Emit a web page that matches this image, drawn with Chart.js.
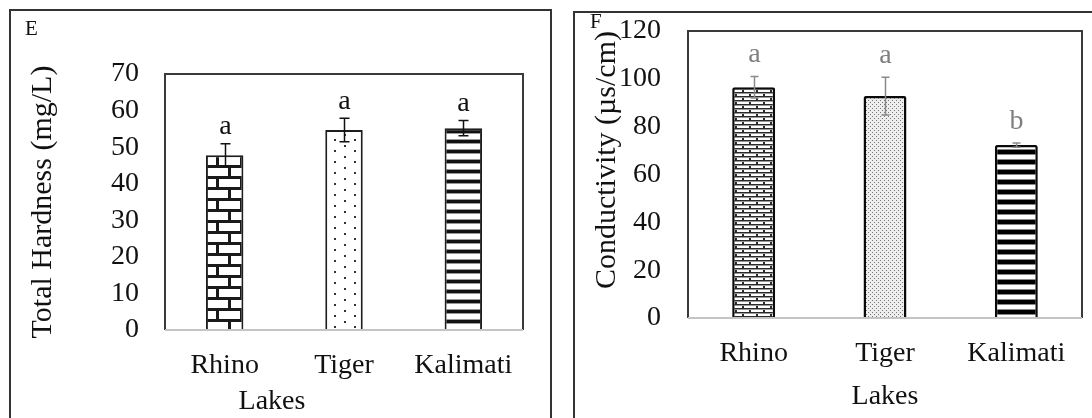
<!DOCTYPE html>
<html><head><meta charset="utf-8">
<script src="https://cdn.jsdelivr.net/npm/chart.js@4.4.1/dist/chart.umd.min.js"></script>
<style>
html,body{margin:0;padding:0;background:#fff;width:1092px;height:418px;overflow:hidden;position:relative;}
.frame{position:absolute;border:2px solid #333;border-bottom:none;box-sizing:border-box;}
canvas{position:absolute;top:0;}
</style></head><body>
<div class="frame" style="left:9px;top:9px;width:543px;height:420px;"></div>
<div class="frame" style="left:573px;top:11px;width:540px;height:420px;"></div>
<canvas id="c1" width="550" height="418" style="left:0;width:550px;height:418px"></canvas>
<canvas id="c2" width="532" height="418" style="left:560px;width:532px;height:418px"></canvas>
<script>
// ---- data ----
const categories = ['Rhino', 'Tiger', 'Kalimati'];
const hardnessValues = [47.8, 54.7, 55.2];
const hardnessErrors = [3.1, 3.2, 2.1];
const hardnessLetters = ['a', 'a', 'a'];
const hardnessTicks = [0, 10, 20, 30, 40, 50, 60, 70];
const conductivityValues = [96.5, 92.8, 72.3];
const conductivityErrors = [4.5, 7.9, 0.9];
const conductivityLetters = ['a', 'a', 'b'];
const conductivityTicks = [0, 20, 40, 60, 80, 100, 120];

const FONT = "'Liberation Serif', 'Times New Roman', serif";

function pat(canvas, w, h, draw) {
  const t = document.createElement('canvas'); t.width = w; t.height = h;
  const g = t.getContext('2d'); draw(g);
  return canvas.getContext('2d').createPattern(t, 'repeat');
}

const c1 = document.getElementById('c1');
const c2 = document.getElementById('c2');

const brickL = pat(c1, 24, 22, g => {
  g.fillStyle = '#fff'; g.fillRect(0, 0, 24, 22);
  g.fillStyle = '#1a1a1a';
  g.fillRect(0, 0, 24, 3); g.fillRect(0, 11, 24, 3);
  g.fillRect(0, 0, 3, 11); g.fillRect(12, 11, 3, 11);
});
const dotsL = pat(c1, 20, 11, g => {
  g.fillStyle = '#fff'; g.fillRect(0, 0, 20, 11);
  g.fillStyle = '#333'; g.fillRect(4, 2, 2, 2); g.fillRect(14, 7, 2, 2);
});
const stripesL = pat(c1, 10, 10, g => {
  g.fillStyle = '#fff'; g.fillRect(0, 0, 10, 10);
  g.fillStyle = '#111'; g.fillRect(0, 0, 10, 3);
  g.fillStyle = '#999'; g.fillRect(0, 3, 10, 1); g.fillRect(0, 9, 10, 1);
});
const brickR = pat(c2, 14, 8, g => {
  g.fillStyle = '#fff'; g.fillRect(0, 0, 14, 8);
  g.fillStyle = '#2a2a2a';
  g.fillRect(0, 0, 14, 1); g.fillRect(0, 4, 14, 1);
  g.fillRect(0, 0, 2, 4); g.fillRect(7, 4, 2, 4);
  g.fillStyle = '#999';
  g.fillRect(0, 1, 14, 1); g.fillRect(0, 5, 14, 1);
});
const stippleR = pat(c2, 4, 4, g => {
  g.fillStyle = '#eeeeee'; g.fillRect(0, 0, 4, 4);
  g.fillStyle = '#777'; g.fillRect(0, 0, 1, 1); g.fillRect(2, 2, 1, 1);
});
const stripesR = pat(c2, 10, 10, g => {
  g.fillStyle = '#fff'; g.fillRect(0, 0, 10, 10);
  g.fillStyle = '#000'; g.fillRect(0, 0, 10, 4);
  g.fillStyle = '#888'; g.fillRect(0, 4, 10, 1); g.fillRect(0, 9, 10, 1);
});

const decor = {
  id: 'decor',
  beforeDatasetsDraw(chart, args, o) {
    const { ctx, chartArea: a } = chart;
    ctx.save();
    ctx.strokeStyle = '#3a3a3a'; ctx.lineWidth = 2;
    ctx.beginPath();
    ctx.moveTo(a.left, a.bottom); ctx.lineTo(a.left, a.top);
    ctx.lineTo(a.right, a.top); ctx.lineTo(a.right, a.bottom);
    ctx.stroke();
    ctx.restore();
  },
  afterDatasetsDraw(chart, args, o) {
    const { ctx, chartArea: a, scales: { y } } = chart;
    ctx.save();
    ctx.strokeStyle = '#c4c4c4'; ctx.lineWidth = 2;
    ctx.beginPath(); ctx.moveTo(a.left, a.bottom); ctx.lineTo(a.right, a.bottom); ctx.stroke();
    const meta = chart.getDatasetMeta(0);
    const ds = chart.data.datasets[0];
    meta.data.forEach((bar, i) => {
      const v = ds.data[i], e = o.errors[i];
      const yt = y.getPixelForValue(v + e), yb = y.getPixelForValue(v - e);
      const x = Math.round(bar.x) + 0.5;
      ctx.strokeStyle = o.errColor; ctx.lineWidth = o.errWidth;
      ctx.beginPath();
      ctx.moveTo(x, yt); ctx.lineTo(x, yb);
      ctx.moveTo(x - o.cap, yt); ctx.lineTo(x + o.cap, yt);
      ctx.moveTo(x - o.cap, yb); ctx.lineTo(x + o.cap, yb);
      ctx.stroke();
      ctx.fillStyle = o.letterColor;
      ctx.font = '28px ' + FONT;
      ctx.textAlign = 'center'; ctx.textBaseline = 'alphabetic';
      ctx.fillText(o.letters[i], x, yt - o.letterGap);
    });
    ctx.restore();
  },
  afterDraw(chart, args, o) {
    const { ctx } = chart;
    ctx.save();
    ctx.fillStyle = '#111';
    ctx.font = '21px ' + FONT;
    ctx.textAlign = 'left'; ctx.textBaseline = 'alphabetic';
    ctx.fillText(o.panel, o.panelX, o.panelY);
    if (o.xTitle) {
      ctx.font = '28px ' + FONT;
      ctx.textAlign = 'center'; ctx.textBaseline = 'middle';
      ctx.fillText(o.xTitle, o.xTitleX, o.xTitleY);
    }
    ctx.restore();
  }
};

function makeChart(canvas, g) {
  const W = canvas.width, H = canvas.height;
  return new Chart(canvas, {
    type: 'bar',
    data: {
      labels: categories,
      datasets: [{
        data: g.values,
        backgroundColor: g.fills,
        borderColor: g.borderColor,
        borderWidth: g.borderWidth,
        borderRadius: g.radius,
        borderSkipped: 'start',
        barPercentage: g.barPct,
        categoryPercentage: 1
      }]
    },
    options: {
      responsive: false,
      animation: false,
      devicePixelRatio: 1,
      layout: { padding: { left: 0, top: g.top, right: W - g.right, bottom: 0 } },
      plugins: {
        legend: { display: false },
        tooltip: { enabled: false },
        decor: g.decor
      },
      scales: {
        x: {
          grid: { display: false, drawTicks: false },
          border: { display: false },
          ticks: { font: { family: FONT, size: 28 }, color: '#111', padding: g.xTickPad, autoSkip: false, maxRotation: 0 },
          title: g.xTitle ? { display: true, text: g.xTitle, font: { family: FONT, size: 28 }, color: '#111', padding: { top: 0, bottom: g.xTitlePad } } : { display: false },
          afterFit(s) { s.height = H - g.bottom; s.paddingLeft = 0; s.paddingRight = 0; }
        },
        y: {
          min: g.ticks[0],
          max: g.ticks[g.ticks.length - 1],
          grid: { display: false, drawTicks: false },
          border: { display: false },
          afterBuildTicks(s) { s.ticks = g.ticks.map(v => ({ value: v })); },
          ticks: { font: { family: FONT, size: 28 }, color: '#111', padding: g.yTickPad, autoSkip: false },
          title: { display: true, text: g.yTitle, align: g.yAlign, font: { family: FONT, size: 30 }, color: '#111', padding: { top: g.yTitlePad, bottom: 0 } },
          afterFit(s) { s.width = g.left; s.paddingTop = 0; s.paddingBottom = 0; }
        }
      }
    },
    plugins: [decor]
  });
}

makeChart(c1, {
  values: hardnessValues, ticks: hardnessTicks,
  fills: [brickL, dotsL, stripesL],
  borderColor: '#1e1e1e', borderWidth: 2, radius: 0, barPct: 0.314,
  left: 165, right: 523, top: 74, bottom: 330,
  xTickPad: 19, yTickPad: 26, yTitle: 'Total Hardness (mg/L)', yAlign: 'center', yTitlePad: 25,
  xTitle: null,
  decor: { errors: hardnessErrors, letters: hardnessLetters, errColor: '#111', errWidth: 1.5, cap: 5, letterColor: '#111', letterGap: 9.5,
           panel: 'E', panelX: 25, panelY: 35, xTitle: 'Lakes', xTitleX: 272, xTitleY: 402 }
});

makeChart(c2, {
  values: conductivityValues, ticks: conductivityTicks,
  fills: [brickR, stippleR, stripesR],
  borderColor: '#0a0a0a', borderWidth: 2.5, radius: 2, barPct: 0.327,
  left: 128, right: 522, top: 31, bottom: 318,
  xTickPad: 19, yTickPad: 27, yTitle: 'Conductivity (µs/cm)', yAlign: 'end', yTitlePad: 29,
  xTitle: 'Lakes', xTitlePad: 5,
  decor: { errors: conductivityErrors, letters: conductivityLetters, errColor: '#8a8a8a', errWidth: 1.5, cap: 4, letterColor: '#7f7f7f', letterGap: 14,
           panel: 'F', panelX: 30, panelY: 28, xTitle: null }
});
</script>
</body></html>
